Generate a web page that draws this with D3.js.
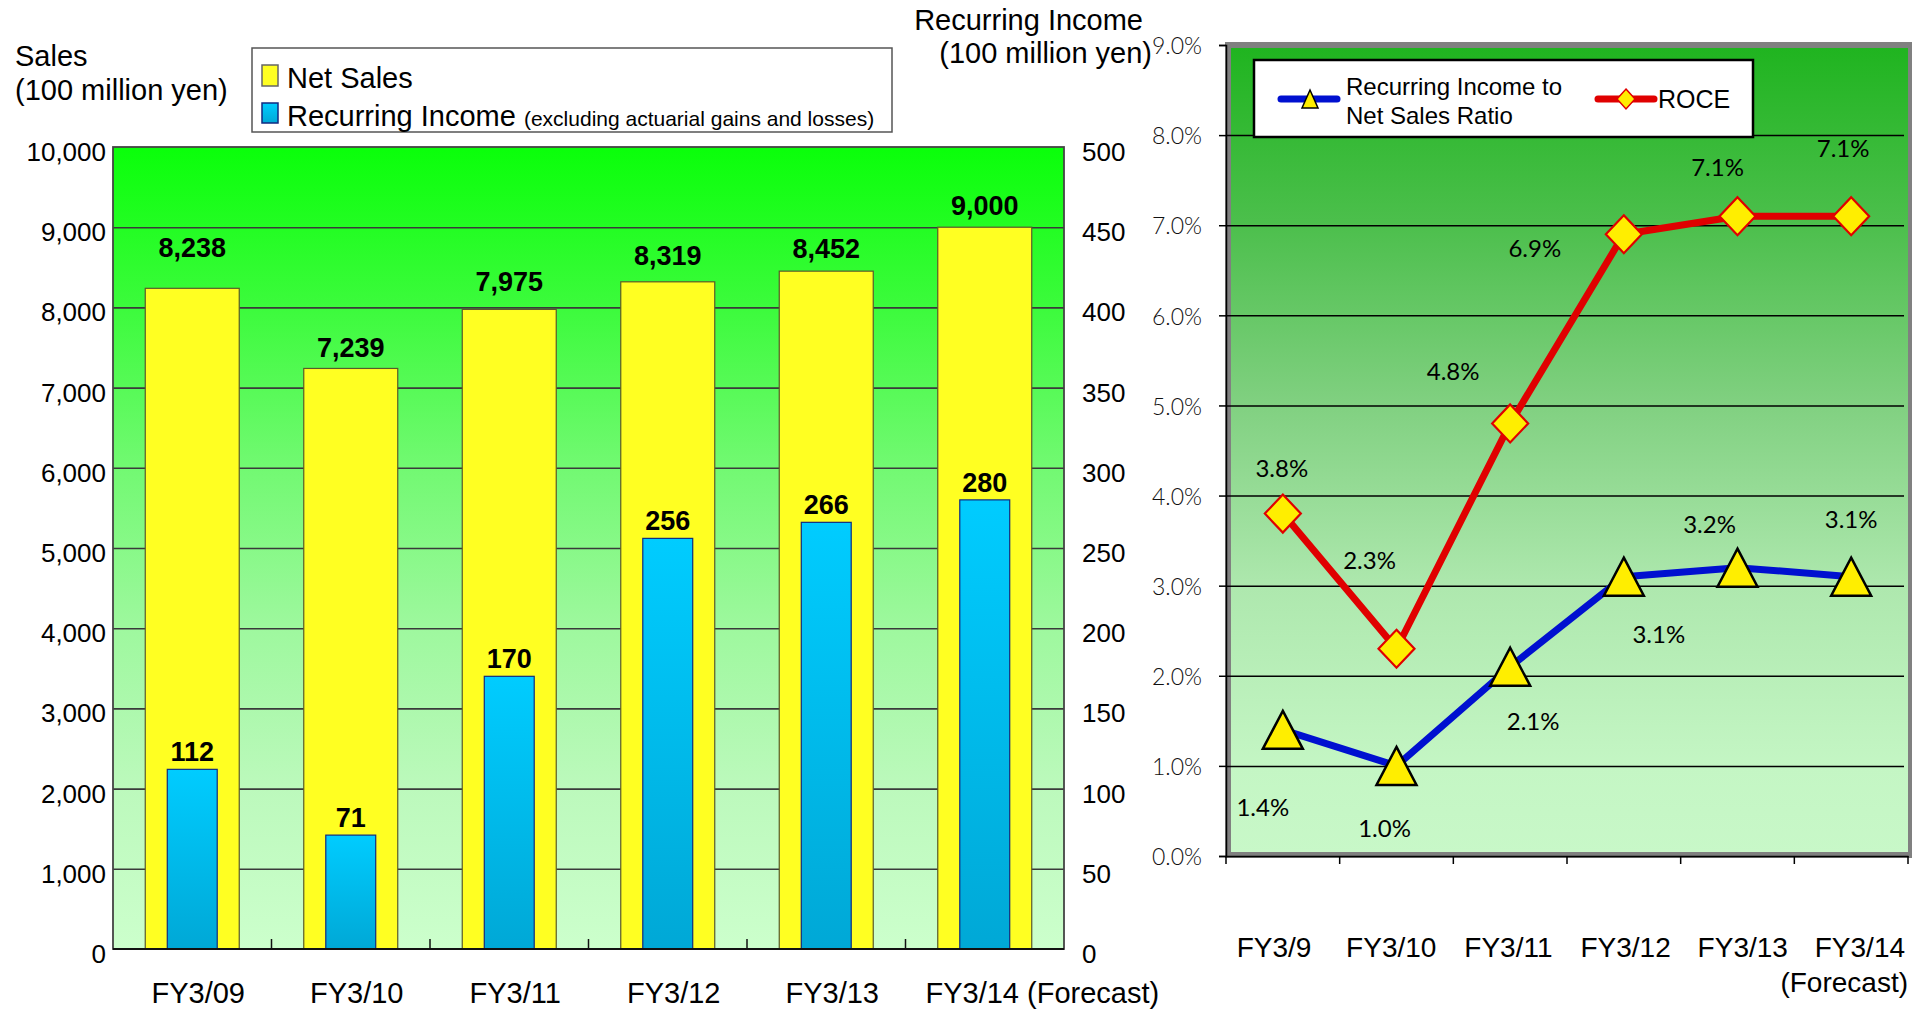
<!DOCTYPE html>
<html><head><meta charset="utf-8">
<script src="https://cdn.jsdelivr.net/npm/d3@7"></script>
<style>body{margin:0;background:#fff;} svg{display:block;}</style>
</head><body>
<svg id="c" width="1912" height="1010"></svg>
<script>
// ---------- data ----------
const categories = ["FY3/09","FY3/10","FY3/11","FY3/12","FY3/13","FY3/14 (Forecast)"];
const netSales = [8238,7239,7975,8319,8452,9000];
const recurringIncome = [112,71,170,256,266,280];
const salesTicks = [0,1000,2000,3000,4000,5000,6000,7000,8000,9000,10000];
const incomeTicks = [0,50,100,150,200,250,300,350,400,450,500];

const ratioCategories = ["FY3/9","FY3/10","FY3/11","FY3/12","FY3/13","FY3/14"];
const ratioSubLabels = ["","","","","","(Forecast)"];
const incomeRatio = [1.4,1.0,2.1,3.1,3.2,3.1];
const roce = [3.8,2.3,4.8,6.9,7.1,7.1];
const pctTicks = [0,1,2,3,4,5,6,7,8,9];

// label placement (hand-placed in the original)
const salesLabelDy = [-31,-11,-18,-17,-13,-12];
const roceLabelOffset = [[-1,-37],[-27,-80],[-57,-43],[-89,23],[-20,-40],[-8,-59]];
const ratioLabelOffset = [[-20,86],[-12,71],[23,63],[35,66],[-28,-35],[0,-49]];

const svg = d3.select("#c");
const FONT = "'Liberation Sans', Arial, sans-serif";
const THIN = "Lato, 'Liberation Sans', sans-serif";
const defs = svg.append("defs");

function grad(id, stops){
  const g = defs.append("linearGradient").attr("id",id).attr("x1",0).attr("y1",0).attr("x2",0).attr("y2",1);
  stops.forEach(s=>g.append("stop").attr("offset",s[0]).attr("stop-color",s[1]));
}
grad("bgL", [[0,"#0aff0a"],[0.2,"#3cfb3c"],[0.4,"#72f972"],[0.6,"#9ef89e"],[0.8,"#bcf9bc"],[1,"#ccffcc"]]);
grad("bgR", [[0,"#1fb41f"],[0.22,"#4cbf4c"],[0.44,"#80d080"],[0.67,"#aee8ae"],[0.89,"#c4f6c4"],[1,"#c8f8c8"]]);
grad("blueBar", [[0,"#00ccff"],[1,"#00a8d6"]]);

// ---------- LEFT CHART ----------
const L = {x0:113, x1:1064, yTop:147, yBot:949};
const xL = d3.scaleBand().domain(categories).range([L.x0, L.x1]).padding(0);
const ySales = d3.scaleLinear().domain([0,10000]).range([L.yBot, L.yTop]);
const yInc = d3.scaleLinear().domain([0,500]).range([L.yBot, L.yTop]);

svg.append("rect").attr("x",L.x0).attr("y",L.yTop).attr("width",L.x1-L.x0).attr("height",L.yBot-L.yTop).attr("fill","url(#bgL)");

// gridlines
const gridL = svg.append("g").attr("transform",`translate(${L.x0},0)`)
  .call(d3.axisLeft(ySales).tickValues(salesTicks.slice(1,-1)).tickSize(-(L.x1-L.x0)).tickFormat(""));
gridL.select(".domain").remove();
gridL.selectAll("line").attr("stroke","#3a3a3a").attr("stroke-width",1.6);

// bars
const bwY = xL.bandwidth()*0.593, bwB = xL.bandwidth()*0.315;
svg.append("g").selectAll("rect").data(netSales).join("rect")
  .attr("x",(d,i)=>xL(categories[i])+xL.bandwidth()/2-bwY/2)
  .attr("y",d=>ySales(d)).attr("width",bwY).attr("height",d=>L.yBot-ySales(d))
  .attr("fill","#ffff22").attr("stroke","#5a5a2a").attr("stroke-width",1.2);
svg.append("g").selectAll("rect").data(recurringIncome).join("rect")
  .attr("x",(d,i)=>xL(categories[i])+xL.bandwidth()/2-bwB/2)
  .attr("y",d=>yInc(d)).attr("width",bwB).attr("height",d=>L.yBot-yInc(d))
  .attr("fill","url(#blueBar)").attr("stroke","#102a80").attr("stroke-width",1.2);

// frame
svg.append("rect").attr("x",L.x0).attr("y",L.yTop).attr("width",L.x1-L.x0).attr("height",L.yBot-L.yTop)
  .attr("fill","none").attr("stroke","#444").attr("stroke-width",1.8);
svg.append("line").attr("x1",L.x0).attr("x2",L.x1).attr("y1",L.yBot).attr("y2",L.yBot).attr("stroke","#111").attr("stroke-width",2);
// inner category ticks
svg.append("g").selectAll("line").data(categories.slice(1)).join("line")
  .attr("x1",d=>xL(d)).attr("x2",d=>xL(d)).attr("y1",L.yBot).attr("y2",L.yBot-10)
  .attr("stroke","#111").attr("stroke-width",1.5);

// value labels
svg.append("g").selectAll("text").data(netSales).join("text")
  .attr("x",(d,i)=>xL(categories[i])+xL.bandwidth()/2)
  .attr("y",(d,i)=>ySales(d)+salesLabelDy[i])
  .attr("text-anchor","middle").attr("font-family",FONT).attr("font-weight","bold").attr("font-size",27)
  .text(d=>d3.format(",")(d));
svg.append("g").selectAll("text").data(recurringIncome).join("text")
  .attr("x",(d,i)=>xL(categories[i])+xL.bandwidth()/2)
  .attr("y",d=>yInc(d)-8)
  .attr("text-anchor","middle").attr("font-family",FONT).attr("font-weight","bold").attr("font-size",27)
  .text(d=>d);

// axes labels
const axL = svg.append("g").attr("transform",`translate(${L.x0},0)`)
  .call(d3.axisLeft(ySales).tickValues(salesTicks).tickFormat(d3.format(",")).tickSize(0).tickPadding(7));
axL.select(".domain").remove();
axL.selectAll("text").attr("font-family",FONT).attr("font-size",26).attr("fill","#000").attr("dy","0.52em");
const axR = svg.append("g").attr("transform",`translate(${L.x1},0)`)
  .call(d3.axisRight(yInc).tickValues(incomeTicks).tickSize(0).tickPadding(18));
axR.select(".domain").remove();
axR.selectAll("text").attr("font-family",FONT).attr("font-size",26).attr("fill","#000").attr("dy","0.52em");

// x labels
svg.append("g").selectAll("text").data(categories).join("text")
  .attr("x",d=> d.includes("(") ? xL(d)+20 : xL(d)+xL.bandwidth()/2+6)
  .attr("y",1003)
  .attr("text-anchor",d=> d.includes("(") ? "start" : "middle")
  .attr("font-family",FONT).attr("font-size",29).text(d=>d);

// titles
const t1 = svg.append("text").attr("font-family",FONT).attr("font-size",29);
t1.append("tspan").attr("x",15).attr("y",66).text("Sales");
t1.append("tspan").attr("x",15).attr("y",100).text("(100 million yen)");
const t2 = svg.append("text").attr("font-family",FONT).attr("font-size",29).attr("text-anchor","end");
t2.append("tspan").attr("x",1143).attr("y",30).text("Recurring Income");
t2.append("tspan").attr("x",1152).attr("y",63).text("(100 million yen)");

// legend left
svg.append("rect").attr("x",252).attr("y",48).attr("width",640).attr("height",84).attr("fill","#fff").attr("stroke","#555").attr("stroke-width",1.5);
svg.append("rect").attr("x",262).attr("y",65).attr("width",16).attr("height",21).attr("fill","#ffff22").attr("stroke","#666").attr("stroke-width",1.5);
svg.append("text").attr("x",287).attr("y",88).attr("font-family",FONT).attr("font-size",29).text("Net Sales");
svg.append("rect").attr("x",262).attr("y",103).attr("width",16).attr("height",20).attr("fill","url(#blueBar)").attr("stroke","#102a80").attr("stroke-width",1.5);
const lt = svg.append("text").attr("x",287).attr("y",126).attr("font-family",FONT).attr("font-size",29);
lt.append("tspan").text("Recurring Income ");
lt.append("tspan").attr("font-size",21).text("(excluding actuarial gains and losses)");

// ---------- RIGHT CHART ----------
const R = {x0:1226, x1:1908, yTop:45, yBot:856};
const xR = d3.scaleBand().domain(ratioCategories).range([R.x0, R.x1]).padding(0);
const yP = d3.scaleLinear().domain([0,9]).range([R.yBot, R.yTop]);

svg.append("rect").attr("x",R.x0).attr("y",R.yTop).attr("width",R.x1-R.x0).attr("height",R.yBot-R.yTop).attr("fill","url(#bgR)");
svg.append("rect").attr("x",R.x0+2).attr("y",R.yTop).attr("width",R.x1-R.x0+1).attr("height",R.yBot-R.yTop-1)
  .attr("fill","none").attr("stroke","#808080").attr("stroke-width",6);

const gridR = svg.append("g").attr("transform",`translate(${R.x0},0)`)
  .call(d3.axisLeft(yP).tickValues(pctTicks.slice(1,-1)).tickSize(-(R.x1-R.x0-4)).tickFormat(""));
gridR.select(".domain").remove();
gridR.selectAll("line").attr("stroke","#000").attr("stroke-width",1.5);

// y axis
const axP = svg.append("g").attr("transform",`translate(${R.x0},0)`)
  .call(d3.axisLeft(yP).tickValues(pctTicks).tickSize(7).tickPadding(17).tickFormat(d=>d3.format(".1f")(d)+"%"));
axP.select(".domain").attr("stroke","#000").attr("stroke-width",1.5);
axP.selectAll("line").attr("stroke","#000").attr("stroke-width",1.5);
axP.selectAll("text").attr("font-family",THIN).attr("font-weight",300).attr("font-size",23).attr("fill","#111").attr("dy","0.38em");
// x axis
const axX = svg.append("g").attr("transform",`translate(0,${R.yBot})`)
  .call(d3.axisBottom(xR).tickSize(0).tickFormat(""));
axX.select(".domain").attr("stroke","#000").attr("stroke-width",1.5);
svg.append("g").selectAll("line").data(ratioCategories.concat(["end"])).join("line")
  .attr("x1",(d,i)=> i<ratioCategories.length ? xR(d) : R.x1).attr("x2",(d,i)=> i<ratioCategories.length ? xR(d) : R.x1)
  .attr("y1",R.yBot).attr("y2",R.yBot+8).attr("stroke","#000").attr("stroke-width",1.5);

svg.append("g").selectAll("text").data(ratioCategories).join("text")
  .attr("x",(d,i)=>xR(d)+xR.bandwidth()/2 + (i-2.5)*3.5).attr("y",957)
  .attr("text-anchor","middle").attr("font-family",FONT).attr("font-size",28).text(d=>d);
svg.append("g").selectAll("text").data(ratioSubLabels).join("text")
  .attr("x",(d,i)=>xR(ratioCategories[i])+xR.bandwidth()).attr("y",992)
  .attr("text-anchor","end").attr("font-family",FONT).attr("font-size",28).text(d=>d);

const cx = i => xR(ratioCategories[i])+xR.bandwidth()/2;
const line = d3.line().x((d,i)=>cx(i)).y(d=>yP(d));
svg.append("path").datum(roce).attr("d",line).attr("fill","none").attr("stroke","#e00000").attr("stroke-width",7).attr("stroke-linejoin","round");
svg.append("path").datum(incomeRatio).attr("d",line).attr("fill","none").attr("stroke","#0010d0").attr("stroke-width",7).attr("stroke-linejoin","round");

const diamond = (w,h)=>`M0,${-h/2}L${w/2},0L0,${h/2}L${-w/2},0Z`;
const tri = (w,h)=>`M0,${-h/2}L${w/2},${h/2}L${-w/2},${h/2}Z`;
svg.append("g").selectAll("path").data(roce).join("path")
  .attr("transform",(d,i)=>`translate(${cx(i)},${yP(d)})`).attr("d",diamond(36,38))
  .attr("fill","#ffee00").attr("stroke","#e00000").attr("stroke-width",2.2);
svg.append("g").selectAll("path").data(incomeRatio).join("path")
  .attr("transform",(d,i)=>`translate(${cx(i)},${yP(d)})`).attr("d",tri(40,38))
  .attr("fill","#ffee00").attr("stroke","#000").attr("stroke-width",2.5).attr("stroke-linejoin","miter");

// data labels
const pctFmt = d=>d3.format(".1f")(d)+"%";
svg.append("g").selectAll("text").data(roce).join("text")
  .attr("x",(d,i)=>cx(i)+roceLabelOffset[i][0]).attr("y",(d,i)=>yP(d)+roceLabelOffset[i][1])
  .attr("text-anchor","middle").attr("font-family",THIN).attr("font-weight",400).attr("font-size",24).attr("fill","#000").text(pctFmt);
svg.append("g").selectAll("text").data(incomeRatio).join("text")
  .attr("x",(d,i)=>cx(i)+ratioLabelOffset[i][0]).attr("y",(d,i)=>yP(d)+ratioLabelOffset[i][1])
  .attr("text-anchor","middle").attr("font-family",THIN).attr("font-weight",400).attr("font-size",24).attr("fill","#000").text(pctFmt);

// legend right
svg.append("rect").attr("x",1254).attr("y",60).attr("width",499).attr("height",77).attr("fill","#fff").attr("stroke","#000").attr("stroke-width",2.5);
svg.append("line").attr("x1",1281).attr("x2",1337).attr("y1",99).attr("y2",99).attr("stroke","#0010d0").attr("stroke-width",7).attr("stroke-linecap","round");
svg.append("path").attr("transform","translate(1310,99)").attr("d",tri(16,18)).attr("fill","#ffee00").attr("stroke","#000").attr("stroke-width",1.5);
const lr = svg.append("text").attr("font-family",FONT).attr("font-size",24);
lr.append("tspan").attr("x",1346).attr("y",95).text("Recurring Income to");
lr.append("tspan").attr("x",1346).attr("y",124).text("Net Sales Ratio");
svg.append("line").attr("x1",1598).attr("x2",1654).attr("y1",99).attr("y2",99).attr("stroke","#e00000").attr("stroke-width",7).attr("stroke-linecap","round");
svg.append("path").attr("transform","translate(1626,99)").attr("d",diamond(18,20)).attr("fill","#ffee00").attr("stroke","#e00000").attr("stroke-width",1.5);
svg.append("text").attr("x",1658).attr("y",108).attr("font-family",FONT).attr("font-size",25).text("ROCE");
</script>
</body></html>
